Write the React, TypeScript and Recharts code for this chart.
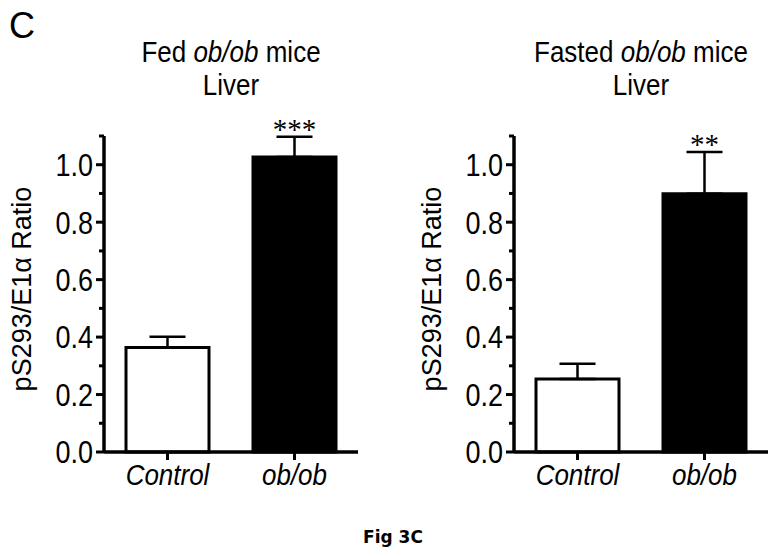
import React from 'react';
import { BarChart, Bar, Cell, XAxis, YAxis, ErrorBar, ReferenceDot, Label } from 'recharts';

const groups = ['Control', 'ob/ob'];
const fedMeans = [0.364, 1.027];
const fedSem = [0.037, 0.07];
const fastedMeans = [0.254, 0.899];
const fastedSem = [0.053, 0.145];
const fedStars = ['', '***'];
const fastedStars = ['', '**'];
const barFills = ['#ffffff', '#000000'];
const yTicks = [0, 0.1, 0.2, 0.3, 0.4, 0.5, 0.6, 0.7, 0.8, 0.9, 1.0, 1.1];
const yMajor = [0, 0.2, 0.4, 0.6, 0.8, 1.0];

const sans = '"Liberation Sans", Arial, Helvetica, sans-serif';

// the source figure is a bit stretched vertically, so the text gets a small scaleY
function YTick(props: any) {
  const { x, y, payload } = props;
  const v = payload.value;
  const major = yMajor.some((m) => Math.abs(m - v) < 1e-6);
  return (
    <g>
      <line x1={x - (major ? 8 : 5)} x2={x} y1={y} y2={y} stroke="#000" strokeWidth={3} />
      {major && (
        <g transform={`translate(${x - 11},${y}) scale(1,1.18)`}>
          <text x={0} y={0} textAnchor="end" dominantBaseline="central" fontSize={27} fontFamily={sans} fill="#000">
            {v.toFixed(1)}
          </text>
        </g>
      )}
    </g>
  );
}

function XTick(props: any) {
  const { x, y, payload } = props;
  return (
    <g transform={`translate(${x},${y + 25}) scale(1,1.15)`}>
      <text x={0} y={0} textAnchor="middle" fontSize={26} fontStyle="italic" fontFamily={sans} fill="#000">
        {payload.value}
      </text>
    </g>
  );
}

function YLabel(props: any) {
  const { viewBox } = props;
  const cx = viewBox.x + 31;
  const cy = viewBox.y + viewBox.height / 2 - 5;
  return (
    <text transform={`translate(${cx},${cy}) rotate(-90)`} textAnchor="middle" fontSize={27} fontFamily={sans} fill="#000">
      pS293/E1α Ratio
    </text>
  );
}

function Panel({ means, sem, stars }: { means: number[]; sem: number[]; stars: string[] }) {
  const data = groups.map((g, i) => ({ name: g, value: means[i], err: [0, sem[i]] }));
  return (
    <BarChart width={390} height={520} data={data} margin={{ top: 136, right: 32, left: 0, bottom: 0 }} barCategoryGap={0}>
      <XAxis
        dataKey="name"
        height={68}
        axisLine={{ stroke: '#000', strokeWidth: 3.5 }}
        tickLine={{ stroke: '#000', strokeWidth: 3 }}
        tickSize={8}
        tickMargin={0}
        tick={<XTick />}
      />
      <YAxis
        width={104}
        domain={[0, 1.1]}
        ticks={yTicks}
        interval={0}
        tickSize={0}
        tickMargin={0}
        tickLine={false}
        axisLine={{ stroke: '#000', strokeWidth: 3.5 }}
        tick={<YTick />}
      >
        <Label content={<YLabel />} />
      </YAxis>
      <Bar dataKey="value" barSize={83} isAnimationActive={false}>
        {data.map((d, i) => (
          <Cell key={d.name} fill={barFills[i]} stroke="#000" strokeWidth={3} />
        ))}
        <ErrorBar dataKey="err" width={18} stroke="#000" strokeWidth={2.5} direction="y" />
      </Bar>
      {data.map((d, i) =>
        stars[i] ? (
          <ReferenceDot
            key={d.name}
            x={d.name}
            y={means[i] + sem[i]}
            r={1}
            fill="none"
            stroke="none"
            label={{ value: stars[i], position: 'top', offset: -3, fill: '#000', fontSize: 29, fontFamily: '"Liberation Serif", "Times New Roman", serif' }}
          />
        ) : null
      )}
    </BarChart>
  );
}

function Title({ center, children }: { center: number; children: React.ReactNode }) {
  return (
    <div
      style={{
        position: 'absolute',
        left: center - 160,
        width: 320,
        top: 35,
        textAlign: 'center',
        fontSize: 26,
        lineHeight: '30px',
        fontFamily: sans,
        color: '#000',
        transform: 'scaleY(1.12)',
        transformOrigin: 'top center',
      }}
    >
      {children}
    </div>
  );
}

export default function App() {
  return (
    <div style={{ position: 'absolute', left: 0, top: 0, width: 781, height: 556, background: '#fff', overflow: 'hidden' }}>
      <div style={{ position: 'absolute', left: 9, top: 4, fontSize: 36, lineHeight: '44px', fontFamily: sans, color: '#000' }}>C</div>
      <Title center={231}>
        Fed <i>ob/ob</i> mice
        <br />
        Liver
      </Title>
      <Title center={641}>
        Fasted <i>ob/ob</i> mice
        <br />
        Liver
      </Title>
      <div style={{ position: 'absolute', left: 0, top: 0 }}>
        <Panel means={fedMeans} sem={fedSem} stars={fedStars} />
      </div>
      <div style={{ position: 'absolute', left: 410, top: 0 }}>
        <Panel means={fastedMeans} sem={fastedSem} stars={fastedStars} />
      </div>
      <div style={{ position: 'absolute', left: 293, width: 200, top: 526, textAlign: 'center', fontSize: 17, fontWeight: 'bold', lineHeight: '22px', fontFamily: '"DejaVu Sans", Verdana, sans-serif', color: '#000' }}>
        Fig 3C
      </div>
    </div>
  );
}
